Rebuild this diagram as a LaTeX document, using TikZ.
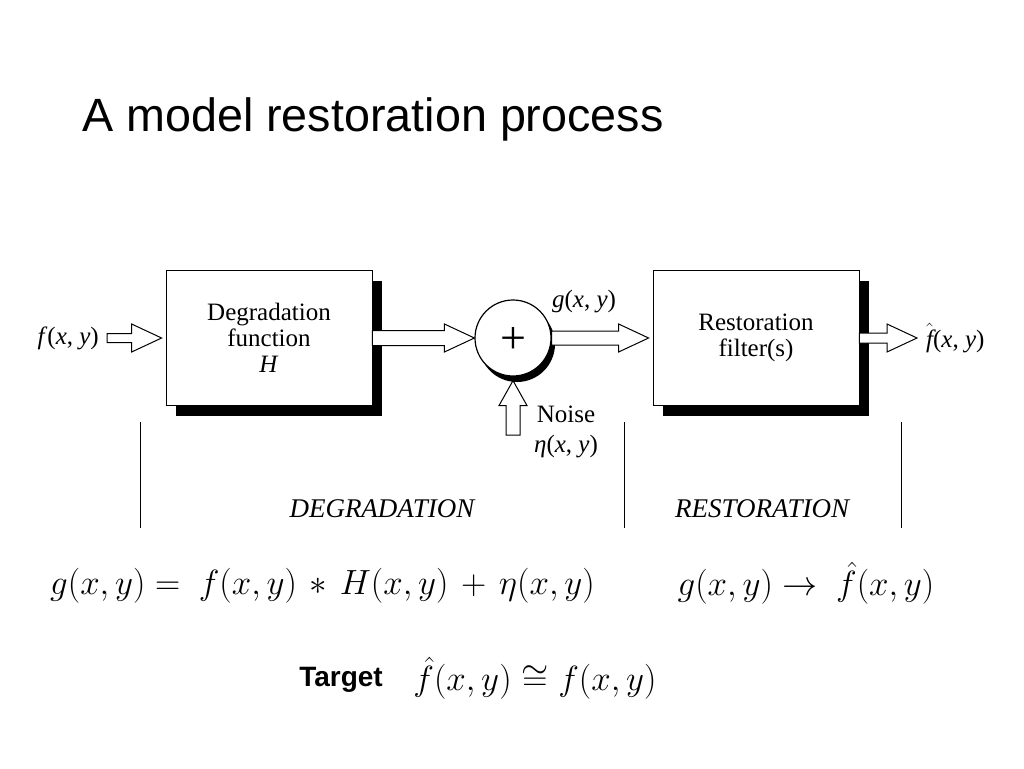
\RequirePackage{fix-cm}
\documentclass[tikz,border=0pt]{standalone}
\usepackage[no-math]{fontspec}
\setmainfont{Liberation Serif}
\newfontfamily\arialfont{Liberation Sans}
\usetikzlibrary{calc,shadows,positioning}

\begin{document}
\begin{tikzpicture}[x=1pt,y=-1pt,
	block/.style={draw,line width=0.8pt,fill=white,minimum width=206pt,minimum height=135pt,align=center,font=\fontsize{25}{26}\selectfont,drop shadow={shadow xshift=10pt,shadow yshift=-10pt,opacity=1,fill=black}},
	summer/.style={draw,circle,line width=1.2pt,fill=white,minimum size=76pt,inner sep=0pt,drop shadow={shadow xshift=4pt,shadow yshift=-6pt,opacity=1,fill=black}},
	hollow/.style={draw,fill=white,line width=1pt,line join=miter},
	rarrow/.style={to path={let \p1=(\tikztostart),\p2=(\tikztotarget) in (\x1,\y1+#1) -- (\x2-30pt,\y1+#1) -- (\x2-30pt,\y1+14pt) -- (\x2,\y1) -- (\x2-30pt,\y1-14pt) -- (\x2-30pt,\y1-#1) -- (\x1,\y1-#1) -- cycle}},
	rarrow/.default=7pt,
	uarrow/.style={to path={let \p1=(\tikztostart),\p2=(\tikztotarget) in (\x1+#1,\y1) -- (\x1+#1,\y2-25pt) -- (\x1+14pt,\y2-25pt) -- (\x1,\y2) -- (\x1-14pt,\y2-25pt) -- (\x1-#1,\y2-25pt) -- (\x1-#1,\y1) -- cycle}},
	uarrow/.default=7pt,
	lab/.style={font=\fontsize{25}{30}\selectfont,inner sep=0pt},
	phase/.style={font=\fontsize{27}{27}\selectfont\itshape,inner sep=0pt},
	eq/.style={font=\fontsize{35}{40}\selectfont,inner sep=0pt}]
			\fill[white] (0,0) rectangle (1024,768);
			\useasboundingbox (0,0) rectangle (1024,768);

			\node[anchor=base west,inner sep=0pt,font=\arialfont\fontsize{46.7}{47}\selectfont] (title) at (82,131) {A model restoration process};

			\node[block] (deg) at (269,338) {Degradation\\function\\\textit{H}};
			\node[block] (res) at (756,338) {Restoration\\filter(s)};
			\node[summer] (sum) at (513,338) {};
			\node[inner sep=0pt,font=\fontsize{46}{46}\selectfont] (plus) at ($(sum.center)+(0,3)$) {+};

			\coordinate (inL) at (107,338);
			\coordinate (outR) at (917,338);
			\coordinate (nz) at (513,435);

			\node[lab,left=8pt of inL] (fin) {\textit{f}(\textit{x}, \textit{y})};
			\node[lab,right=9pt of outR] (fout) {$\hat{\textit{f}}$(\textit{x}, \textit{y})};
			\node[lab] (gxy) at (584,302) {\textit{g}(\textit{x}, \textit{y})};
			\node[lab,align=center] (noise) at (566,432) {Noise\\\textit{η}(\textit{x}, \textit{y})};

			\draw[hollow] (inL) to[rarrow=4.5pt] ($(deg.west)+(-4,0)$);
			\draw[hollow] (deg.east) to[rarrow=7.5pt] (sum.west);
			\draw[hollow] (sum.east) to[rarrow] ($(res.west)+(-4,0)$);
			\draw[hollow] (res.east) to[rarrow=5pt] (outR);
			\draw[hollow] (nz) to[uarrow] ($(sum.south)+(0,4)$);

			\foreach \x in {140,624,901}
				\draw[line width=0.8pt] (\x,422) -- (\x,528);
			\node[phase] (dph) at (382,509) {DEGRADATION};
			\node[phase] (rph) at (762,509) {RESTORATION};

			\node[eq,anchor=west] (eq1) at (50,586) {\medmuskip=6.5mu$g(x,y) =\ f(x,y) \ast H(x,y) + \eta(x,y)$};
			\node[eq] (eq2) at (806,583) {$g(x,y) \rightarrow\ \hat{f}(x,y)$};
			\node[font=\arialfont\bfseries\fontsize{28}{28}\selectfont,inner sep=0pt] (tgt) at (341,680) {Target};
			\node[eq] (eq3) at (535,678) {$\hat{f}(x,y) \cong f(x,y)$};
\end{tikzpicture}
\end{document}
